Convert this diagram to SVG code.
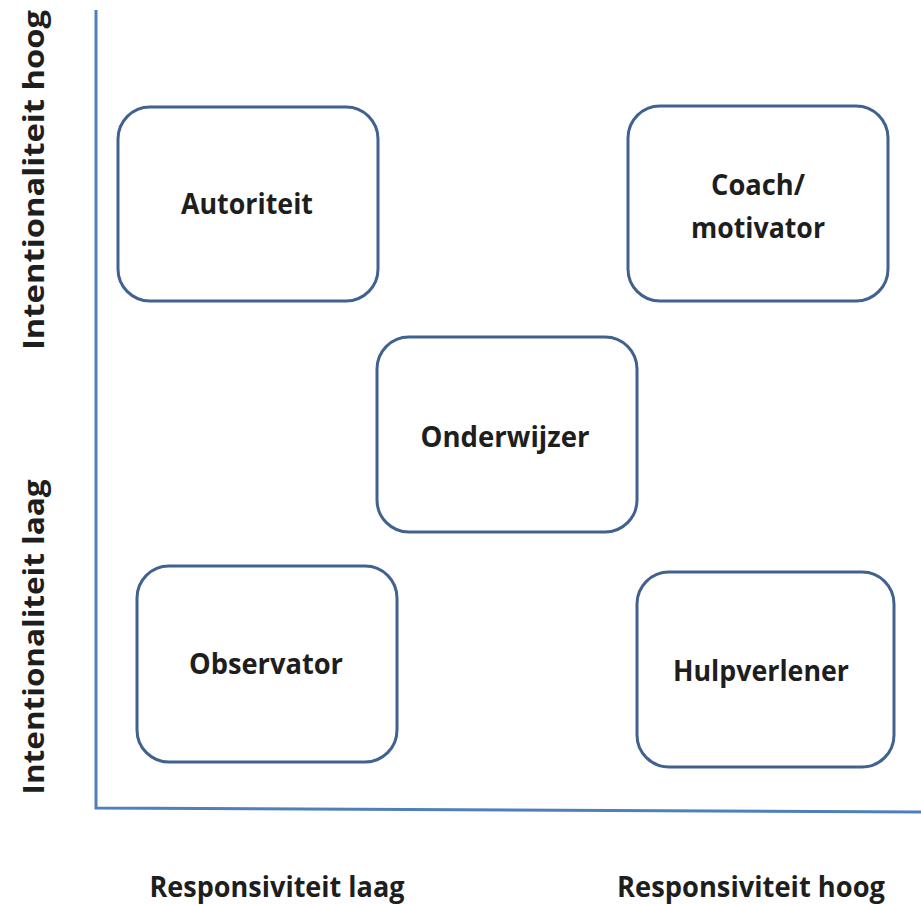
<svg xmlns="http://www.w3.org/2000/svg" width="921" height="905" viewBox="0 0 921 905">
<style>
.box{fill:#fff;stroke:#41628f;stroke-width:3}
.axis{stroke:#4f7fbd;stroke-width:3;fill:none}
text{font-family:"Open Sans","Liberation Sans",sans-serif;font-weight:bold;fill:#1e1e1e;text-anchor:middle}
.n{font-size:28px}
.ax{font-size:29px}
</style>
<rect width="921" height="905" fill="#fff"/>
<g id="axes">
<path class="axis" d="M96 10 L96 808 L921 812"/>
</g>
<g id="autoriteit"><rect class="box" x="118" y="107" width="260" height="194" rx="32"/><text class="n" x="247" y="214" textLength="132" lengthAdjust="spacingAndGlyphs">Autoriteit</text></g>
<g id="coach"><rect class="box" x="628" y="106" width="260" height="195" rx="32"/><text class="n" x="758" y="195" textLength="94" lengthAdjust="spacingAndGlyphs">Coach/</text><text class="n" x="758" y="238" textLength="134" lengthAdjust="spacingAndGlyphs">motivator</text></g>
<g id="onderwijzer"><rect class="box" x="377" y="337" width="260" height="195" rx="32"/><text class="n" x="505" y="447" textLength="169" lengthAdjust="spacingAndGlyphs">Onderwijzer</text></g>
<g id="observator"><rect class="box" x="137" y="566" width="260" height="196" rx="32"/><text class="n" x="266" y="674" textLength="154" lengthAdjust="spacingAndGlyphs">Observator</text></g>
<g id="hulpverlener"><rect class="box" x="637" y="572" width="257" height="195" rx="32"/><text class="n" x="761" y="681" textLength="176" lengthAdjust="spacingAndGlyphs">Hulpverlener</text></g>
<g id="labels">
<text class="ax" transform="translate(44,180) rotate(-90)" textLength="340" lengthAdjust="spacingAndGlyphs">Intentionaliteit hoog</text>
<text class="ax" transform="translate(44,637) rotate(-90)" textLength="315" lengthAdjust="spacingAndGlyphs">Intentionaliteit laag</text>
<text class="ax" x="277" y="897" textLength="255" lengthAdjust="spacingAndGlyphs">Responsiviteit laag</text>
<text class="ax" x="751" y="897" textLength="268" lengthAdjust="spacingAndGlyphs">Responsiviteit hoog</text>
</g>
</svg>
